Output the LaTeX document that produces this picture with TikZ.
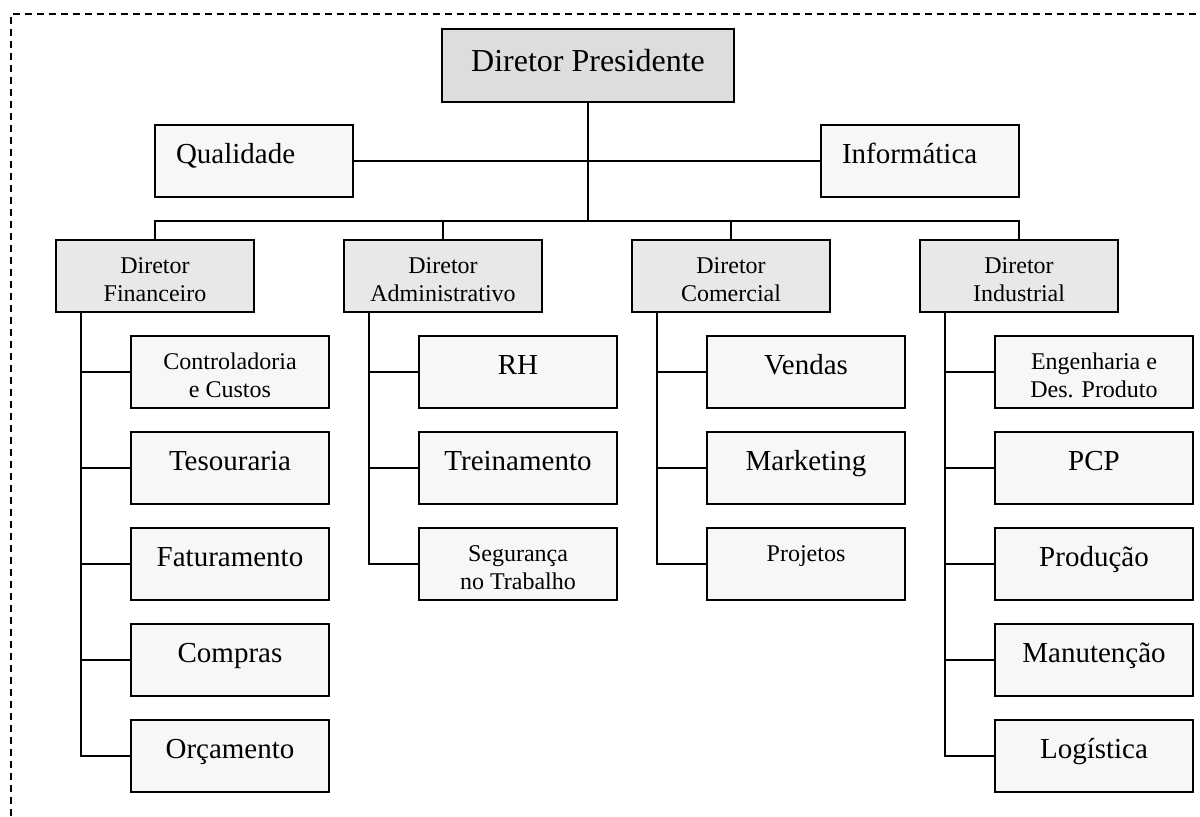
\documentclass[tikz,border=0pt]{standalone}
\usepackage{fontspec}
\setmainfont{Liberation Serif}
\usetikzlibrary{positioning}
\definecolor{greyi}{RGB}{221,221,221}
\definecolor{greyii}{RGB}{232,232,232}
\definecolor{greyiii}{RGB}{247,247,247}
\tikzset{
      mybox/.style={
        draw,
        fill=#1,
        line width=1pt,
        align=center,
        minimum width=99pt,
        inner xsep=0pt,
        inner ysep=0pt
      },
      mybig/.style={
        font=\fontsize{14.5}{16.5}\selectfont,
        text height=19pt,
        text depth=17pt
      },
      mysmall/.style={
        font=\fontsize{12}{14}\selectfont,
        text height=16.5pt,
        text depth=19.5pt
      },
      mytwo/.style={
        font=\fontsize{12}{14}\selectfont,
        text height=30.5pt,
        text depth=5.5pt
      },
      myline/.style={
        line width=1pt
      },
    }
\begin{document}
\begin{tikzpicture}[x=0.5pt,y=-0.5pt,node distance=11pt and 44pt]
          \useasboundingbox (0,0) rectangle (1200,816);
          \draw[line width=1pt,dash pattern=on 3.5pt off 2.5pt]
            (11,816) -- (11,14) -- (1200,14);

          \node[mybox=greyi,minimum width=146pt,font=\fontsize{16}{18}\selectfont,
                text height=21pt,text depth=15.5pt]
            (pres) at (588,65.5)
            {Diretor Presidente};
          \node[mybox=greyiii,mybig,align=left,text width=78pt,inner xsep=10.5pt]
            (qual) at (254,161)
            {Qualidade};
          \node[mybox=greyiii,mybig,align=left,text width=78pt,inner xsep=10.5pt]
            (info) at (920,161)
            {Informática};
          \coordinate (bus) at (588,221);

          % diretores
          \node[mybox=greyii,mytwo]
            (dfin) at (155,276)
            {Diretor\\Financeiro};
          \node[mybox=greyii,mytwo,right=of dfin]
            (dadm)
            {Diretor\\Administrativo};
          \node[mybox=greyii,mytwo,right=of dadm]
            (dcom)
            {Diretor\\Comercial};
          \node[mybox=greyii,mytwo,right=of dcom]
            (dind)
            {Diretor\\Industrial};

          % financeiro
          \node[mybox=greyiii,mytwo,below=of dfin,xshift=37.5pt]
            (cont)
            {Controladoria\\e Custos};
          \node[mybox=greyiii,mybig,below=of cont]
            (tes)
            {Tesouraria};
          \node[mybox=greyiii,mybig,below=of tes]
            (fat)
            {Faturamento};
          \node[mybox=greyiii,mybig,below=of fat]
            (comp)
            {Compras};
          \node[mybox=greyiii,mybig,below=of comp]
            (orc)
            {Orçamento};

          % administrativo
          \node[mybox=greyiii,mybig,below=of dadm,xshift=37.5pt]
            (rh)
            {RH};
          \node[mybox=greyiii,mybig,below=of rh]
            (trein)
            {Treinamento};
          \node[mybox=greyiii,mytwo,below=of trein]
            (seg)
            {Segurança\\no Trabalho};

          % comercial
          \node[mybox=greyiii,mybig,below=of dcom,xshift=37.5pt]
            (vend)
            {Vendas};
          \node[mybox=greyiii,mybig,below=of vend]
            (mkt)
            {Marketing};
          \node[mybox=greyiii,mysmall,below=of mkt]
            (proj)
            {Projetos};

          % industrial
          \node[mybox=greyiii,mytwo,below=of dind,xshift=37.5pt]
            (eng)
            {Engenharia e\\Des. Produto};
          \node[mybox=greyiii,mybig,below=of eng]
            (pcp)
            {PCP};
          \node[mybox=greyiii,mybig,below=of pcp]
            (prod)
            {Produção};
          \node[mybox=greyiii,mybig,below=of prod]
            (manut)
            {Manutenção};
          \node[mybox=greyiii,mybig,below=of manut]
            (log)
            {Logística};

          \draw[myline] (pres) -- (bus);
          \draw[myline] (qual) -- (info);
          \draw[myline] (dfin) |- (bus) -| (dind);
          \draw[myline] (dadm) -- (dadm |- bus) (dcom) -- (dcom |- bus);
          \foreach \c in {cont,tes,fat,comp,orc}
            \draw[myline] ([xshift=13pt]dfin.south west) |- (\c.west);
          \foreach \c in {rh,trein,seg}
            \draw[myline] ([xshift=13pt]dadm.south west) |- (\c.west);
          \foreach \c in {vend,mkt,proj}
            \draw[myline] ([xshift=13pt]dcom.south west) |- (\c.west);
          \foreach \c in {eng,pcp,prod,manut,log}
            \draw[myline] ([xshift=13pt]dind.south west) |- (\c.west);
        \end{tikzpicture}
\end{document}
